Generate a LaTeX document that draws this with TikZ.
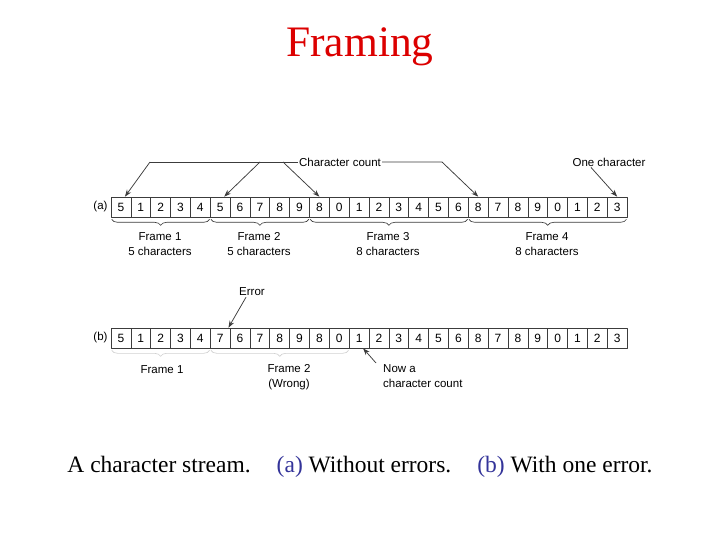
\documentclass[tikz,border=0pt]{standalone}
\usepackage{fontspec}
\setmainfont{Liberation Serif}
\setsansfont{Liberation Sans}
\usetikzlibrary{arrows.meta,positioning,calc,decorations.pathreplacing}
\definecolor{frink}{RGB}{60,60,60}
\definecolor{frtitle}{RGB}{220,0,0}
\definecolor{frtag}{RGB}{51,51,153}
\tikzset{
  cell/.style={
    draw=frink, line width=0.65pt, minimum width=19.85pt,
    minimum height=20pt, inner sep=0pt, text height=8.5pt, text depth=0pt,
    font=\fontsize{12}{13}\sffamily
  },
  lbl/.style={font=\fontsize{11.5}{15}\sffamily, align=center, inner sep=1pt},
  arr/.style={-{Stealth[length=7pt,width=5pt]}, draw=frink, line width=0.75pt},
  brc/.style={
    draw=frink, line width=0.65pt, decorate,
    decoration={brace, amplitude=6pt, mirror}
  },
  fbrc/.style={brc, draw=black!18},
  every picture/.append style={line join=round}
}

\begin{document}
\begin{tikzpicture}[x=1pt, y=-1pt]
  \useasboundingbox (0,0) rectangle (720,540);
  \node[font=\fontsize{43.5}{48}\selectfont, text=frtitle] (title) at (360,47) {Framing};

  % (a) without errors
  \foreach \d [count=\i] in {5,1,2,3,4,5,6,7,8,9,8,0,1,2,3,4,5,6,8,7,8,9,0,1,2,3}
    \node[cell] (a\i) at ({111+(\i-0.5)*19.85}, 207) {\d};
  \node[lbl, left=2pt of a1] (taga) {(a)};

  \draw[brc] ([shift={(1,2)}]a1.south west) -- ([shift={(-1,2)}]a5.south east);
  \draw[brc] ([shift={(1,2)}]a6.south west) -- ([shift={(-1,2)}]a10.south east);
  \draw[brc] ([shift={(1,2)}]a11.south west) -- ([shift={(-1,2)}]a18.south east);
  \draw[brc] ([shift={(1,2)}]a19.south west) -- ([shift={(-1,2)}]a26.south east);
  \node[lbl] (fa1) at (160,244.5) {Frame 1\\5 characters};
  \node[lbl] (fa2) at (259,244.5) {Frame 2\\5 characters};
  \node[lbl] (fa3) at (388,244.5) {Frame 3\\8 characters};
  \node[lbl] (fa4) at (547,244.5) {Frame 4\\8 characters};

  \node[lbl] (cc) at (340,162) {Character count};
  \coordinate (h1) at (150,162);
  \coordinate (h2) at (260,162);
  \coordinate (h3) at (283,162);
  \coordinate (h4) at (442,162);
  \draw[frink, line width=0.75pt] (h1) -- (cc.west);
  \draw[arr] (h1) -- ([xshift=4pt]a1.north);
  \draw[arr] (h2) -- ([xshift=4pt]a6.north);
  \draw[arr] (h3) -- (a11.north);
  \draw[arr] (cc.east) -- (h4) -- (a19.north);
  \node[lbl] (one) at (609,162) {One character};
  \draw[arr] ([xshift=-18pt]one.south) -- (a26.north);

  % (b) with one error
  \foreach \d [count=\i] in {5,1,2,3,4,7,6,7,8,9,8,0,1,2,3,4,5,6,8,7,8,9,0,1,2,3}
    \node[cell] (b\i) at ({111+(\i-0.5)*19.85}, 338) {\d};
  \node[lbl, left=2pt of b1] (tagb) {(b)};

  \draw[fbrc] ([shift={(1,2)}]b1.south west) -- ([shift={(-1,2)}]b5.south east);
  \draw[fbrc] ([shift={(1,2)}]b6.south west) -- ([shift={(-1,2)}]b12.south east);
  \node[lbl] (fb1) at (162,370) {Frame 1};
  \node[lbl] (fb2) at (289,377.5) {Frame 2\\(Wrong)};

  \node[lbl] (err) at (252,292) {Error};
  \draw[arr] ([xshift=-6pt]err.south) -- ([xshift=-2pt]b6.north east);
  \node[lbl, align=left, anchor=north west] (now) at (382,363) {Now a\\character count};
  \draw[arr] ([xshift=-6pt]now.north west) -- ([xshift=4pt]b13.south);

  % caption
  \node[font=\fontsize{23.5}{26}\selectfont] (cap) at (360,467)
    {A character stream.\hspace{26pt}\textcolor{frtag}{(a)} Without errors.\hspace{26pt}\textcolor{frtag}{(b)} With one error.};
\end{tikzpicture}
\end{document}
